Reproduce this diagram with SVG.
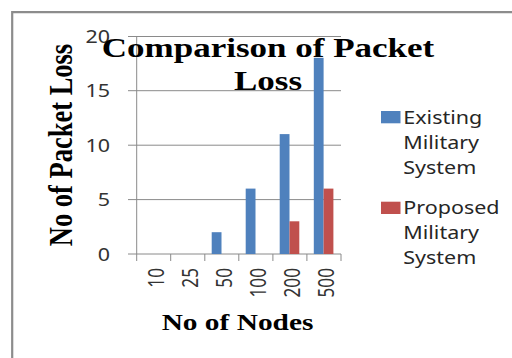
<svg xmlns="http://www.w3.org/2000/svg" width="512" height="358" viewBox="0 0 512 358">
  <style>
    .frame { stroke: #8c8c8c; stroke-width: 2.2; fill: none; }
    .grid { stroke: #8a8a8a; stroke-width: 1; fill: none; }
    .axis { stroke: #8a8a8a; stroke-width: 1; fill: none; }
    .tick { font-family: "Noto Sans", "Open Sans", sans-serif; font-size: 17.2px; fill: #333; }
    .legend { font-family: "Noto Sans", "Open Sans", sans-serif; font-size: 17.2px; fill: #262626; }
    .heading { font-family: "Liberation Serif", "Times New Roman", serif; font-weight: bold; fill: #000; }
    .existing { fill: #4f81bd; }
    .proposed { fill: #c0504d; }
  </style>

  <rect width="512" height="358" fill="#fff"/>

  <!-- outer chart frame (left and top edges visible) -->
  <path class="frame" d="M12.2 358 V12.2 H512"/>

  <!-- gridlines and axes -->
  <g id="axes">
    <path class="grid" d="M128 36.5 H341 M128 90.7 H341 M128 145.2 H341 M128 199.6 H341"/>
    <path class="axis" d="M136.7 36.5 V254 M128 254 H341"/>
    <path class="axis" d="M136.7 254 V261 M170.7 254 V261 M204.8 254 V261 M238.8 254 V261 M272.9 254 V261 M306.9 254 V261 M341 254 V261"/>
  </g>

  <!-- y tick labels -->
  <g id="y-labels" class="tick" text-anchor="end">
    <text transform="translate(110 42.8) scale(1.25 1)">20</text>
    <text transform="translate(110 97.2) scale(1.25 1)">15</text>
    <text transform="translate(110 151.7) scale(1.25 1)">10</text>
    <text transform="translate(110 206.1) scale(1.25 1)">5</text>
    <text transform="translate(110 260.5) scale(1.25 1)">0</text>
  </g>

  <!-- x tick labels (rotated) -->
  <g id="x-labels" class="tick" text-anchor="end">
    <text transform="translate(164.2 268) scale(1.25 1) rotate(-90)">10</text>
    <text transform="translate(198.2 268) scale(1.25 1) rotate(-90)">25</text>
    <text transform="translate(232.3 268) scale(1.25 1) rotate(-90)">50</text>
    <text transform="translate(266.3 268) scale(1.25 1) rotate(-90)">100</text>
    <text transform="translate(300.4 268) scale(1.25 1) rotate(-90)">200</text>
    <text transform="translate(334.4 268) scale(1.25 1) rotate(-90)">500</text>
  </g>

  <!-- data bars -->
  <g id="series-existing" class="existing">
    <rect x="211.7" y="232.2" width="9.8" height="21.8"/>
    <rect x="245.7" y="188.6" width="9.8" height="65.4"/>
    <rect x="279.7" y="134.1" width="9.8" height="119.9"/>
    <rect x="313.8" y="57.8" width="9.8" height="196.2"/>
  </g>
  <g id="series-proposed" class="proposed">
    <rect x="289.5" y="221.3" width="9.8" height="32.7"/>
    <rect x="323.6" y="188.6" width="9.8" height="65.4"/>
  </g>

  <!-- legend -->
  <g id="legend-existing">
    <rect class="existing" x="381" y="111" width="19.5" height="12.3"/>
    <g class="legend">
      <text transform="translate(403.3 123.5) scale(1.25 1)">Existing</text>
      <text transform="translate(403.3 148.5) scale(1.25 1)">Military</text>
      <text transform="translate(403.3 173.5) scale(1.25 1)">System</text>
    </g>
  </g>
  <g id="legend-proposed">
    <rect class="proposed" x="381" y="201.7" width="19.5" height="12.3"/>
    <g class="legend">
      <text transform="translate(403.3 213.8) scale(1.25 1)">Proposed</text>
      <text transform="translate(403.3 238.8) scale(1.25 1)">Military</text>
      <text transform="translate(403.3 263.8) scale(1.25 1)">System</text>
    </g>
  </g>

  <!-- axis titles -->
  <text id="x-title" class="heading" font-size="23.5" text-anchor="middle" transform="translate(237.5 330) scale(1.25 1)">No of Nodes</text>
  <text id="y-title" class="heading" font-size="26.5" text-anchor="middle" transform="translate(72 145) scale(1.25 1) rotate(-90)">No of Packet Loss</text>

  <!-- chart title -->
  <g id="title" class="heading" font-size="28" text-anchor="middle">
    <text transform="translate(268 56.5) scale(1.25 1)">Comparison of Packet</text>
    <text transform="translate(268 90) scale(1.25 1)">Loss</text>
  </g>
</svg>
